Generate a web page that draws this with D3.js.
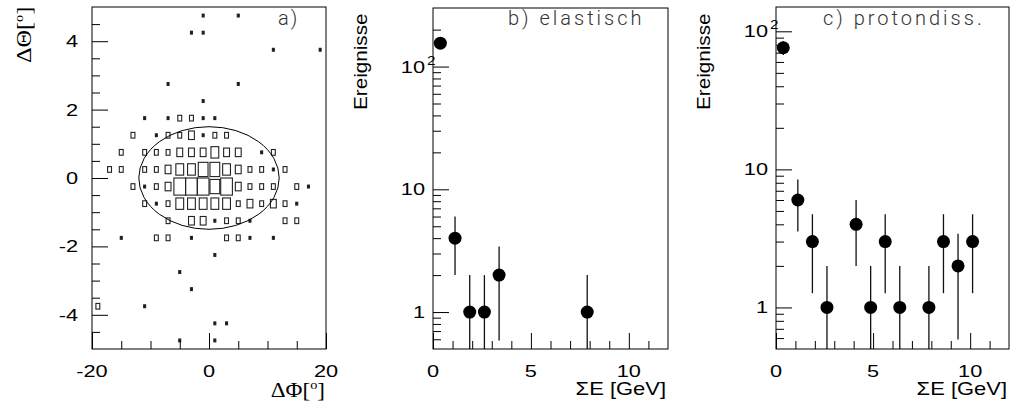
<!DOCTYPE html>
<html>
<head>
<meta charset="utf-8">
<script src="https://cdn.jsdelivr.net/npm/d3@7"></script>
<style>
  body { margin: 0; background: #fff; }
  svg { display: block; }
</style>
</head>
<body>
<div id="chart"></div>
<script>
// ---- panel a: 2D box histogram dTheta vs dPhi ----
const phiDomain = [-20, 20];
const thetaDomain = [-5, 5];
const PHI_BIN = 2;
const THETA_BIN = 0.5;
const MAX_COUNT = 6;
// [dPhi bin centre, dTheta bin centre, entries]
const boxBins = [
  [-1, 4.75, 1], [5, 4.75, 1],
  [-3, 4.25, 1], [-1, 4.25, 1],
  [11, 3.75, 1], [19, 3.75, 1],
  [-7, 2.75, 1], [5, 2.75, 1],
  [-1, 2.25, 1],
  [-11, 1.75, 1], [-7, 1.75, 1], [-5, 1.75, 2], [-3, 1.75, 2], [-1, 1.75, 1], [1, 1.75, 1],
  [-13, 1.25, 2], [-9, 1.25, 1], [-7, 1.25, 2], [-5, 1.25, 2], [-3, 1.25, 3], [-1, 1.25, 1], [1, 1.25, 2], [3, 1.25, 2],
  [-15, 0.75, 2], [-11, 0.75, 2], [-9, 0.75, 2], [-7, 0.75, 2], [-5, 0.75, 3], [-3, 0.75, 3], [-1, 0.75, 3],
  [1, 0.75, 4], [3, 0.75, 3], [5, 0.75, 3], [9, 0.75, 1], [11, 0.75, 2],
  [-17, 0.25, 2], [-15, 0.25, 2], [-11, 0.25, 2], [-9, 0.25, 2], [-7, 0.25, 3], [-5, 0.25, 4], [-3, 0.25, 4],
  [-1, 0.25, 5], [1, 0.25, 5], [3, 0.25, 4], [5, 0.25, 3], [7, 0.25, 2], [9, 0.25, 2], [11, 0.25, 1], [13, 0.25, 2],
  [-13, -0.25, 2], [-11, -0.25, 1], [-9, -0.25, 2], [-7, -0.25, 3], [-5, -0.25, 6], [-3, -0.25, 6], [-1, -0.25, 6],
  [1, -0.25, 5], [3, -0.25, 6], [5, -0.25, 3], [7, -0.25, 2], [9, -0.25, 2], [11, -0.25, 2], [15, -0.25, 2], [17, -0.25, 1],
  [-11, -0.75, 2], [-9, -0.75, 1], [-7, -0.75, 2], [-5, -0.75, 4], [-3, -0.75, 4], [-1, -0.75, 4], [1, -0.75, 4],
  [3, -0.75, 4], [5, -0.75, 2], [7, -0.75, 3], [9, -0.75, 2], [11, -0.75, 3], [13, -0.75, 2], [15, -0.75, 1],
  [-7, -1.25, 2], [-3, -1.25, 3], [-1, -1.25, 3], [1, -1.25, 1], [3, -1.25, 2], [5, -1.25, 2], [7, -1.25, 1],
  [13, -1.25, 2], [15, -1.25, 2],
  [-15, -1.75, 1], [-9, -1.75, 2], [-7, -1.75, 2], [-3, -1.75, 1], [3, -1.75, 2], [5, -1.75, 2], [7, -1.75, 1], [11, -1.75, 1],
  [1, -2.25, 1],
  [-5, -2.75, 1],
  [-3, -3.25, 1],
  [-19, -3.75, 2], [-11, -3.75, 1],
  [1, -4.25, 1], [3, -4.25, 1],
  [-5, -4.75, 1], [1, -4.75, 1]
];
// selection ellipse: centre and half axes in degrees
const cutEllipse = { phi: 0, theta: 0, rPhi: 12, rTheta: 1.5 };
const phiMajor = [-20, 0, 20];
const phiMinor = [-15, -10, -5, 5, 10, 15];
const thetaMajor = [-4, -2, 0, 2, 4];
const thetaMinor = [-4.5, -3.5, -3, -2.5, -1.5, -1, -0.5, 0.5, 1, 1.5, 2.5, 3, 3.5, 4.5];

// ---- panels b, c: energy sum spectra ----
const energyDomain = [0, 12];
const energyMajor = [0, 5, 10];
const energyMinor = [1, 2, 3, 4, 6, 7, 8, 9, 11];
const countMajor = [1, 10, 100];
const countMinor = [0.6, 0.7, 0.8, 0.9, 2, 3, 4, 5, 6, 7, 8, 9, 20, 30, 40, 50, 60, 70, 80, 90, 200, 300];

const elasticE = [0.375, 1.125, 1.875, 2.625, 3.375, 7.875];
const elasticN = [155, 4, 1, 1, 2, 1];
const protonE = [0.375, 1.125, 1.875, 2.625, 4.125, 4.875, 5.625, 6.375, 7.875, 8.625, 9.375, 10.125];
const protonN = [76, 6, 3, 1, 4, 1, 3, 1, 1, 3, 2, 3];

const W = 1010, H = 405;
const SANS = '"Liberation Sans", Arial, Helvetica, sans-serif';
const SERIF = '"Liberation Serif", "Times New Roman", serif';
const THIN = 'Roboto, Lato, "Open Sans", sans-serif';
const SX = 1.28;

const svg = d3.select('#chart')
  .append('svg')
  .attr('width', W)
  .attr('height', H);

function stretchText(g, x, y, str, opt = {}) {
  return g.append('text')
    .attr('transform', `translate(${x},${y}) rotate(${opt.rotate || 0}) scale(${opt.sx || SX},1)`)
    .attr('text-anchor', opt.anchor || 'middle')
    .style('font-family', opt.family || SANS)
    .style('font-size', (opt.size || 17) + 'px')
    .style('font-weight', opt.weight || 'normal')
    .style('letter-spacing', opt.spacing || null)
    .attr('fill', opt.fill || '#000')
    .text(str);
}

function ticks(g, axis) {
  g.call(axis).call(s => s.select('.domain').remove());
  g.selectAll('.tick line').attr('stroke', '#000').attr('stroke-width', 1);
}

function frame(g, box) {
  g.append('rect')
    .attr('x', box.left).attr('y', box.top)
    .attr('width', box.right - box.left).attr('height', box.bottom - box.top)
    .attr('fill', 'none').attr('stroke', '#000').attr('stroke-width', 1);
}

// ===== panel a =====
const aBox = { left: 92, right: 326, top: 7, bottom: 349 };
const gA = svg.append('g');
const xA = d3.scaleLinear().domain(phiDomain).range([aBox.left, aBox.right]);
const yA = d3.scaleLinear().domain(thetaDomain).range([aBox.bottom, aBox.top]);
const binW = xA(PHI_BIN) - xA(0);
const binH = yA(0) - yA(THETA_BIN);

gA.selectAll('rect.bin')
  .data(boxBins)
  .join('rect')
  .attr('class', 'bin')
  .attr('x', d => xA(d[0]) - binW * d[2] / MAX_COUNT / 2)
  .attr('y', d => yA(d[1]) - binH * d[2] / MAX_COUNT / 2)
  .attr('width', d => binW * d[2] / MAX_COUNT)
  .attr('height', d => binH * d[2] / MAX_COUNT)
  .attr('fill', d => d[2] === 1 ? '#111' : 'none')
  .attr('stroke', '#222')
  .attr('stroke-width', 1.1);

gA.append('ellipse')
  .attr('cx', xA(cutEllipse.phi))
  .attr('cy', yA(cutEllipse.theta))
  .attr('rx', xA(cutEllipse.rPhi) - xA(0))
  .attr('ry', yA(0) - yA(cutEllipse.rTheta))
  .attr('fill', 'none')
  .attr('stroke', '#000')
  .attr('stroke-width', 1);

ticks(gA.append('g').attr('transform', `translate(${aBox.left},0)`),
  d3.axisLeft(yA).tickValues(thetaMinor).tickSize(-8).tickSizeOuter(0).tickFormat(''));
ticks(gA.append('g').attr('transform', `translate(${aBox.left},0)`),
  d3.axisLeft(yA).tickValues(thetaMajor).tickSize(-16).tickSizeOuter(0).tickFormat(''));
ticks(gA.append('g').attr('transform', `translate(0,${aBox.bottom})`),
  d3.axisBottom(xA).tickValues(phiMinor).tickSize(-8).tickSizeOuter(0).tickFormat(''));
ticks(gA.append('g').attr('transform', `translate(0,${aBox.bottom})`),
  d3.axisBottom(xA).tickValues(phiMajor).tickSize(-16).tickSizeOuter(0).tickFormat(''));
frame(gA, aBox);

thetaMajor.forEach(v => stretchText(gA, aBox.left - 14, yA(v) + 6, String(v), { anchor: 'end' }));
phiMajor.forEach(v => stretchText(gA, xA(v), aBox.bottom + 28, String(v)));

stretchText(gA, 278, 25, 'a)', { anchor: 'start', family: THIN, weight: 300, size: 20, sx: 1, spacing: '2px', fill: '#333' });

const tTheta = stretchText(gA, 31, 63, 'ΔΘ[', { anchor: 'start', rotate: -90, family: SERIF, size: 22, sx: 1.1 });
tTheta.append('tspan').attr('dy', -8).style('font-size', '13px').text('o');
tTheta.append('tspan').attr('dy', 8).text(']');

const tPhi = stretchText(gA, aBox.right - 1, 397, 'ΔΦ[', { anchor: 'end', family: SERIF, size: 21, sx: 1.1 });
tPhi.append('tspan').attr('dy', -8).style('font-size', '13px').text('o');
tPhi.append('tspan').attr('dy', 8).text(']');

// ===== panels b and c =====
function spectrum(box, yTop, energies, counts, title, titleX) {
  const g = svg.append('g');
  const x = d3.scaleLinear().domain(energyDomain).range([box.left, box.right]);
  const y = d3.scaleLog().domain([0.5, yTop]).range([box.bottom, box.top]);
  const minor = countMinor.filter(v => v < yTop);

  ticks(g.append('g').attr('transform', `translate(${box.left},0)`),
    d3.axisLeft(y).tickValues(minor).tickSize(-8).tickSizeOuter(0).tickFormat(''));
  ticks(g.append('g').attr('transform', `translate(${box.left},0)`),
    d3.axisLeft(y).tickValues(countMajor).tickSize(-16).tickSizeOuter(0).tickFormat(''));
  ticks(g.append('g').attr('transform', `translate(0,${box.bottom})`),
    d3.axisBottom(x).tickValues(energyMinor).tickSize(-8).tickSizeOuter(0).tickFormat(''));
  ticks(g.append('g').attr('transform', `translate(0,${box.bottom})`),
    d3.axisBottom(x).tickValues(energyMajor).tickSize(-16).tickSizeOuter(0).tickFormat(''));

  const pts = energies.map((e, i) => ({ e, n: counts[i] }));

  g.selectAll('line.err')
    .data(pts)
    .join('line')
    .attr('class', 'err')
    .attr('x1', d => x(d.e)).attr('x2', d => x(d.e))
    .attr('y1', d => y(d.n + Math.sqrt(d.n)))
    .attr('y2', d => y(Math.max(d.n - Math.sqrt(d.n), 0.5)))
    .attr('stroke', '#111')
    .attr('stroke-width', 1.3);

  g.selectAll('circle')
    .data(pts)
    .join('circle')
    .attr('cx', d => x(d.e))
    .attr('cy', d => y(d.n))
    .attr('r', 6.5)
    .attr('fill', '#000');

  frame(g, box);

  energyMajor.forEach(v => stretchText(g, x(v), box.bottom + 28, String(v)));
  countMajor.forEach((v, i) => {
    const label = i === 2 ? '10' : String(v);
    stretchText(g, box.left - 8, y(v) + 6, label, { anchor: 'end' });
    if (i === 2) stretchText(g, box.left - 6, y(v) - 2, '2', { anchor: 'start', size: 12 });
  });

  stretchText(g, box.right - 2, 395, 'ΣE [GeV]', { anchor: 'end', size: 18, sx: 1.22 });
  stretchText(g, box.left - 66, 110, 'Ereignisse', { anchor: 'start', rotate: -90, size: 18, sx: 1.15 });
  stretchText(g, titleX, 25, title, { anchor: 'start', family: THIN, weight: 300, size: 20, sx: 1, spacing: '3px', fill: '#333' });
}

spectrum({ left: 433, right: 668, top: 8, bottom: 349 }, 300, elasticE, elasticN, 'b) elastisch', 508);
spectrum({ left: 776, right: 1009, top: 7, bottom: 349 }, 150, protonE, protonN, 'c) protondiss.', 823);
</script>
</body>
</html>
